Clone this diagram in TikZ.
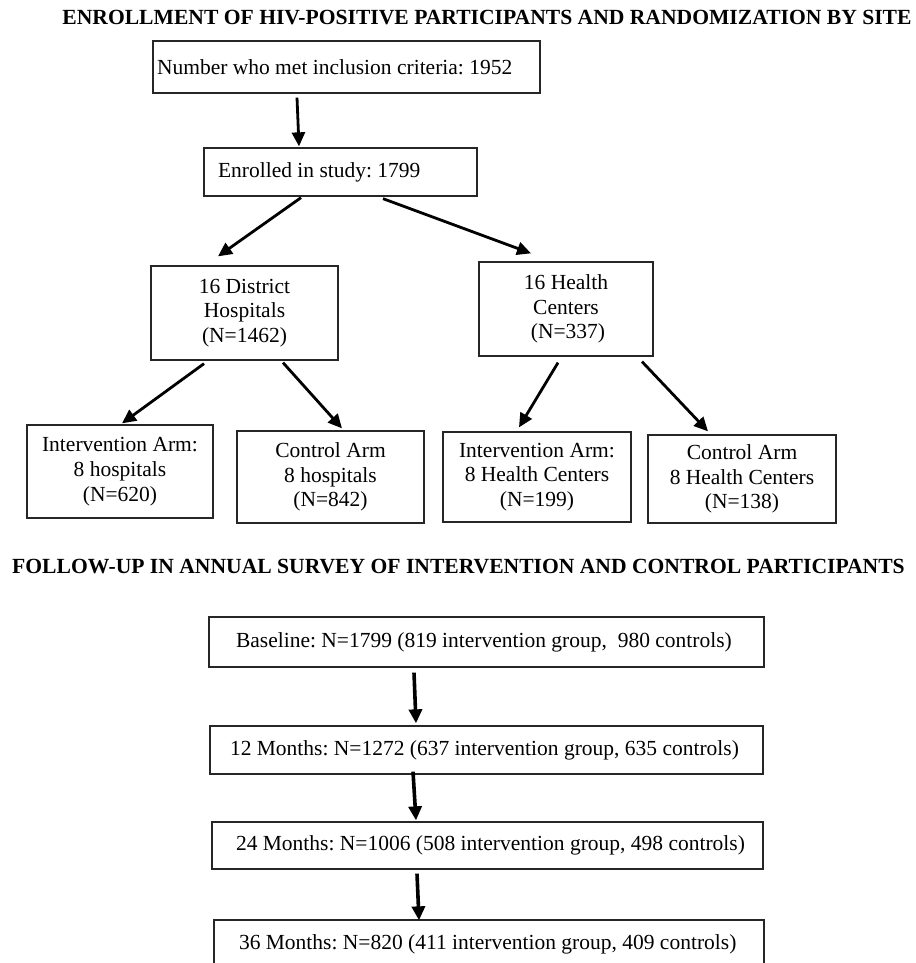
\documentclass[tikz,border=0pt]{standalone}
\usepackage{fontspec}
\setmainfont{Liberation Serif}
\usepackage{tikz}
\usetikzlibrary{calc,arrows.meta}
\frenchspacing

\begin{document}
\begin{tikzpicture}[x=1pt,y=-1pt,font=\fontsize{21.5}{24.8}\selectfont]

\tikzset{flowbox/.style={draw=black!85,line width=1.3pt,rectangle,inner ysep=0pt,align=center},
leftbox/.style={draw=black!85,line width=1.3pt,rectangle,inner ysep=0pt},
flowarrow/.style={line width=2.8pt,-{Triangle[length=14pt,width=13pt]}},
heading/.style={font=\fontsize{21.6}{24.8}\selectfont\bfseries}}

\useasboundingbox (0,0) rectangle (915,963);

% Enrollment part
\node[heading] (enrolTitle) at (487,18) {ENROLLMENT OF HIV-POSITIVE PARTICIPANTS AND RANDOMIZATION BY SITE};
\node[leftbox,minimum height=52pt,inner xsep=4pt] (crit) at (346.5,67) {\makebox[379pt][l]{Number who met inclusion criteria: 1952}};
\node[leftbox,minimum height=48pt,inner xsep=14pt] (enrol) at (340.5,172) {\makebox[245pt][l]{Enrolled in study: 1799}};

% Site nodes
\node[flowbox,minimum width=187pt,minimum height=94pt] (hosp) at (244.5,313) {16 District\\Hospitals\\(N=1462)};
\node[flowbox,minimum width=174pt,minimum height=94pt] (hc) at (566,309) {16 Health\\Centers\\\hspace{4pt}(N=337)};

% Arm nodes
\node[flowbox,minimum width=186pt,minimum height=93pt] (intH) at (120,471.5) {Intervention Arm:\\8 hospitals\\(N=620)};
\node[flowbox,minimum width=187pt,minimum height=92pt] (ctlH) at (330.5,477) {Control Arm\\8 hospitals\\(N=842)};
\node[flowbox,minimum width=188pt,minimum height=90pt] (intC) at (537,477) {Intervention Arm:\\8 Health Centers\\(N=199)};
\node[flowbox,minimum width=188pt,minimum height=88pt] (ctlC) at (742,479) {Control Arm\\8 Health Centers\\(N=138)};

% Follow-up part
\node[heading] (followTitle) at (458.5,567) {FOLLOW-UP IN ANNUAL SURVEY OF INTERVENTION AND CONTROL PARTICIPANTS};
\node[leftbox,minimum height=50pt,inner xsep=27pt] (base) at (486.5,642) {\makebox[501pt][l]{Baseline: N=1799 (819 intervention group,~ 980 controls)}};
\node[leftbox,minimum height=48pt,inner xsep=20pt] (m12) at (486.5,750) {\makebox[513pt][l]{12 Months: N=1272 (637 intervention group, 635 controls)}};
\node[leftbox,minimum height=47pt,inner xsep=24pt] (m24) at (487.5,845.5) {\makebox[503pt][l]{24 Months: N=1006 (508 intervention group, 498 controls)}};
\node[leftbox,minimum height=48pt,inner xsep=25pt] (m36) at (489,944) {\makebox[500pt][l]{36 Months: N=820 (411 intervention group, 409 controls)}};

% Edges
\draw[flowarrow] ($(crit.south)+(-49.5,4)$) -- ($(enrol.north)+(-41.5,-1)$);
\draw[flowarrow] ($(enrol.south)+(-39.5,1)$) -- ($(hosp.north)+(-26.5,-9)$); \draw[flowarrow] ($(enrol.south)+(42.5,2)$) -- ($(hc.north)+(-35,-8)$);
\draw[flowarrow] ($(hosp.south)+(-40.5,3)$) -- ($(intH.north)+(2,-1)$); \draw[flowarrow] ($(hosp.south)+(38.5,2)$) -- ($(ctlH.north)+(11.5,-2)$);
\draw[flowarrow] ($(hc.south)+(-8,6)$) -- ($(intC.north)+(-18,-4)$); \draw[flowarrow] ($(hc.south)+(76,5)$) -- ($(ctlC.north)+(-34,-3)$);
\draw[flowarrow,line width=3.6pt] ($(base.south)+(-72.5,5)$) -- ($(m12.north)+(-70.5,-2)$);
\draw[flowarrow,line width=3.6pt] ($(m12.south)+(-73.5,-3)$) -- ($(m24.north)+(-71.5,-1)$);
\draw[flowarrow,line width=3.6pt] ($(m24.south)+(-70.5,4)$) -- ($(m36.north)+(-70,1)$);

\end{tikzpicture}
\end{document}
